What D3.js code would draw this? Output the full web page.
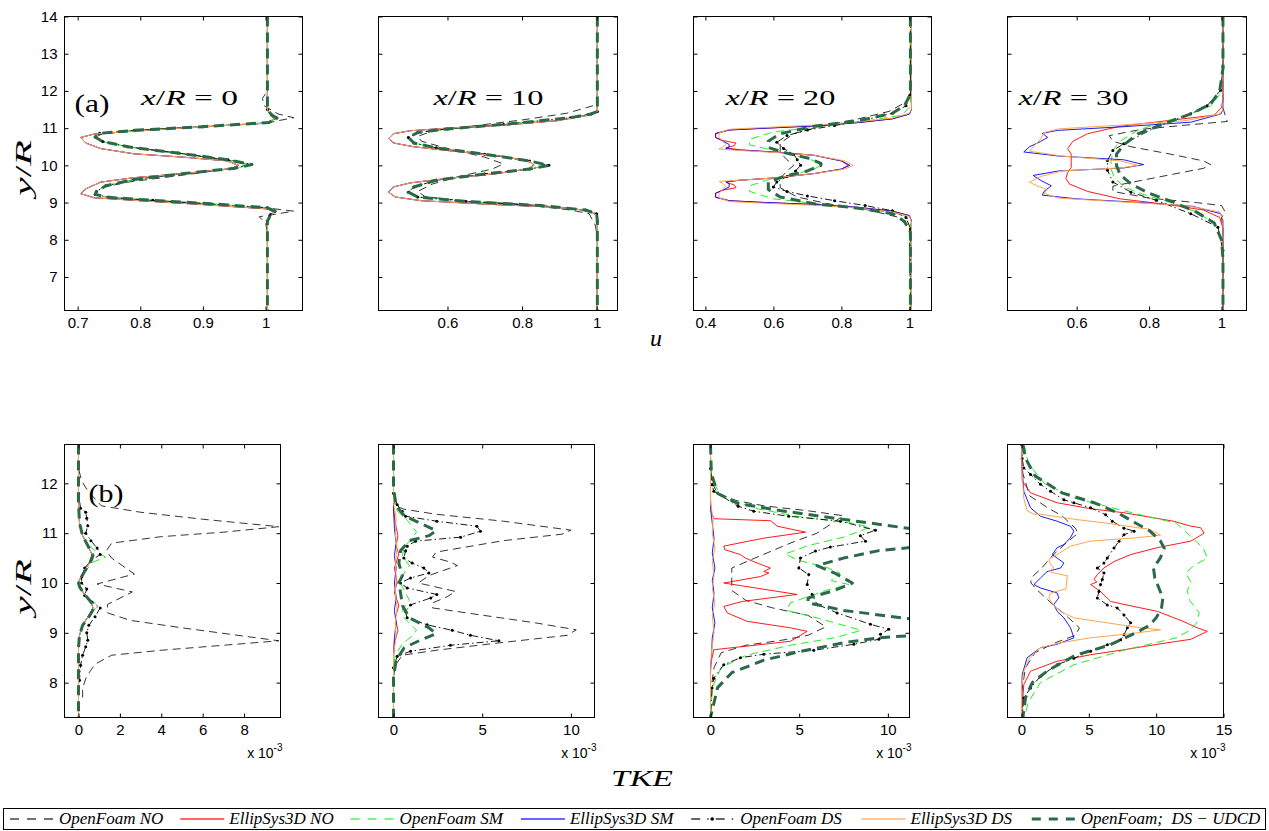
<!DOCTYPE html>
<html>
<head>
<meta charset="utf-8">
<script src="https://cdnjs.cloudflare.com/ajax/libs/d3/7.8.5/d3.min.js"></script>
<style>
body { margin: 0; background: #fff; }
svg { display: block; }
.tick text { font-family: "Liberation Sans", Arial, sans-serif; font-size: 15px; fill: #000; }
.tick line { stroke: #000; }
.math { font-family: "Liberation Serif", "DejaVu Serif", serif; fill: #000; }
</style>
</head>
<body>
<div id="chart-area"></div>
<script>
/*
*    wake profiles: mean velocity (a) and TKE (b) at x/R = 0, 10, 20, 30
*/

// ---- series (legend order = drawing order)
var seriesLabels = ["OpenFoam NO", "EllipSys3D NO", "OpenFoam SM", "EllipSys3D SM",
                    "OpenFoam DS", "EllipSys3D DS", "OpenFoam;  DS \u2212 UDCD"];
var stations = ["0", "10", "20", "30"];

// ---- tick values
var uYTicks = [7, 8, 9, 10, 11, 12, 13, 14];
var kYTicks = [8, 9, 10, 11, 12];
var uXTicks = [[0.7, 0.8, 0.9, 1], [0.6, 0.8, 1], [0.4, 0.6, 0.8, 1], [0.6, 0.8, 1]];
var kXTicks = [[0, 2, 4, 6, 8], [0, 5, 10], [0, 5, 10], [0, 5, 10, 15]];
var uXRange = [[0.679, 1.059], [0.415, 1.056], [0.365, 1.065], [0.409, 1.069]];
var kXRange = [[-0.676, 9.76], [-0.846, 11.33], [-0.958, 11.22], [-1.04, 15.0]];

// ---- u profiles, x/R = 0   ([u, y/R])
var a0_ofNO = [[1.003,14],[1.003,12.0],[0.995,11.8],[0.998,11.6],[1.02,11.38],[1.045,11.28],[1.02,11.2],[1.0,11.13],[0.9,11.03],[0.79,10.93],[0.74,10.85],[0.728,10.76],[0.742,10.62],[0.78,10.5],[0.86,10.32],[0.94,10.14],[0.975,10.02],[0.94,9.9],[0.86,9.72],[0.78,9.55],[0.738,9.4],[0.728,9.24],[0.745,9.15],[0.8,9.07],[0.9,8.97],[1.0,8.86],[1.045,8.77],[1.02,8.7],[0.99,8.62],[1.0,8.45],[1.003,8.2],[1.003,6.1]];
var a0_el = [[1.003,14],[1.003,11.48],[1.009,11.35],[1.013,11.26],[1.005,11.14],[0.896,11.03],[0.79,10.92],[0.726,10.84],[0.705,10.75],[0.713,10.6],[0.737,10.45],[0.79,10.31],[0.869,10.22],[0.939,10.12],[0.957,10.0],[0.944,9.91],[0.869,9.78],[0.79,9.67],[0.737,9.55],[0.713,9.37],[0.705,9.24],[0.726,9.13],[0.79,9.06],[0.896,8.95],[1.003,8.83],[1.013,8.74],[1.008,8.63],[1.003,8.47],[1.003,6.1]];
var a0_of = [[1.003,14],[1.003,11.5],[1.01,11.35],[1.018,11.27],[1.005,11.15],[0.9,11.04],[0.79,10.94],[0.735,10.86],[0.728,10.76],[0.74,10.64],[0.78,10.5],[0.86,10.33],[0.94,10.15],[0.978,10.02],[0.95,9.92],[0.87,9.78],[0.79,9.62],[0.745,9.45],[0.73,9.3],[0.728,9.22],[0.75,9.14],[0.82,9.06],[0.91,8.97],[1.003,8.86],[1.015,8.77],[1.008,8.68],[1.003,8.5],[1.003,6.1]];

// ---- u profiles, x/R = 10
var a10_ofNO = [[1.002,14],[1.002,11.7],[0.99,11.6],[0.92,11.4],[0.8,11.22],[0.66,11.05],[0.56,10.92],[0.52,10.78],[0.53,10.65],[0.6,10.45],[0.7,10.22],[0.75,10.04],[0.72,9.9],[0.63,9.7],[0.56,9.5],[0.52,9.3],[0.54,9.16],[0.63,9.06],[0.8,8.95],[0.93,8.8],[0.98,8.7],[0.996,8.4],[1.002,8.1],[1.002,6.1]];
var a10_el = [[1.002,14],[1.002,11.45],[0.98,11.35],[0.894,11.2],[0.751,11.08],[0.6,11.0],[0.5,10.93],[0.455,10.85],[0.442,10.72],[0.456,10.6],[0.51,10.5],[0.617,10.38],[0.75,10.24],[0.823,10.1],[0.832,10.0],[0.814,9.9],[0.733,9.78],[0.6,9.65],[0.501,9.53],[0.455,9.42],[0.442,9.28],[0.46,9.15],[0.53,9.05],[0.72,8.95],[0.9,8.87],[0.98,8.78],[1.002,8.65],[1.002,6.1]];
var a10_of = [[1.002,14],[1.002,11.45],[0.985,11.38],[0.93,11.28],[0.75,11.1],[0.6,10.98],[0.52,10.88],[0.495,10.75],[0.51,10.6],[0.57,10.47],[0.7,10.3],[0.82,10.12],[0.872,10.0],[0.82,9.9],[0.7,9.77],[0.57,9.6],[0.51,9.42],[0.495,9.28],[0.52,9.15],[0.65,9.03],[0.85,8.92],[0.97,8.8],[1.0,8.7],[1.002,8.5],[1.002,6.1]];

// ---- u profiles, x/R = 20
var a20_ofNO = [[1.003,14],[1.003,12.0],[0.99,11.7],[0.94,11.45],[0.85,11.25],[0.74,11.05],[0.66,10.85],[0.62,10.6],[0.62,10.35],[0.64,10.15],[0.66,10.0],[0.64,9.85],[0.62,9.65],[0.62,9.4],[0.67,9.15],[0.77,8.95],[0.88,8.8],[0.97,8.6],[1.0,8.3],[1.003,6.1]];
var a20_elNO = [[1.006,14],[1.006,11.5],[1.0,11.38],[0.95,11.25],[0.85,11.15],[0.72,11.06],[0.58,11.0],[0.47,10.95],[0.43,10.85],[0.43,10.75],[0.45,10.67],[0.49,10.6],[0.485,10.53],[0.46,10.47],[0.5,10.42],[0.6,10.36],[0.72,10.27],[0.8,10.12],[0.82,10.0],[0.8,9.9],[0.72,9.78],[0.6,9.66],[0.5,9.6],[0.46,9.55],[0.485,9.47],[0.49,9.4],[0.45,9.33],[0.43,9.25],[0.43,9.15],[0.47,9.05],[0.58,9.0],[0.72,8.95],[0.85,8.87],[0.95,8.77],[1.0,8.65],[1.006,8.5],[1.006,6.1]];
var a20_elSM = [[1.006,14],[1.006,11.5],[1.0,11.38],[0.95,11.25],[0.85,11.15],[0.72,11.06],[0.58,11.0],[0.47,10.95],[0.43,10.86],[0.43,10.75],[0.45,10.66],[0.47,10.56],[0.47,10.5],[0.46,10.45],[0.5,10.41],[0.6,10.36],[0.72,10.27],[0.8,10.12],[0.825,10.0],[0.8,9.9],[0.72,9.78],[0.6,9.66],[0.5,9.6],[0.46,9.56],[0.47,9.5],[0.47,9.42],[0.45,9.33],[0.43,9.25],[0.43,9.14],[0.47,9.05],[0.58,9.0],[0.72,8.95],[0.85,8.87],[0.95,8.77],[1.0,8.65],[1.006,8.5],[1.006,6.1]];
var a20_elDS = [[1.006,14],[1.006,11.52],[1.0,11.4],[0.95,11.27],[0.85,11.17],[0.72,11.08],[0.58,11.02],[0.47,10.97],[0.44,10.87],[0.44,10.75],[0.45,10.66],[0.46,10.56],[0.45,10.48],[0.44,10.44],[0.5,10.4],[0.6,10.35],[0.72,10.27],[0.81,10.12],[0.835,10.0],[0.81,9.9],[0.72,9.78],[0.6,9.66],[0.5,9.6],[0.44,9.57],[0.45,9.52],[0.46,9.44],[0.45,9.34],[0.44,9.25],[0.44,9.13],[0.47,9.03],[0.58,8.98],[0.72,8.93],[0.85,8.85],[0.95,8.75],[1.0,8.63],[1.006,8.48],[1.006,6.1]];
var a20_ofSM = [[1.003,14],[1.003,11.6],[0.98,11.35],[0.88,11.2],[0.75,11.05],[0.6,10.9],[0.53,10.7],[0.53,10.55],[0.6,10.4],[0.67,10.25],[0.73,10.1],[0.74,10.0],[0.72,9.9],[0.66,9.75],[0.58,9.6],[0.53,9.45],[0.53,9.3],[0.6,9.1],[0.75,8.95],[0.88,8.82],[0.98,8.68],[1.003,8.5],[1.003,6.1]];
var a20_ofDS = [[1.003,14],[1.003,11.9],[0.99,11.6],[0.95,11.4],[0.86,11.2],[0.78,11.07],[0.7,10.95],[0.64,10.8],[0.61,10.62],[0.63,10.45],[0.66,10.3],[0.67,10.15],[0.68,10.0],[0.665,9.85],[0.64,9.7],[0.61,9.55],[0.6,9.42],[0.64,9.3],[0.7,9.18],[0.78,9.05],[0.87,8.92],[0.95,8.78],[0.99,8.6],[1.003,8.3],[1.003,6.1]];
var a20_udcd = [[1.003,14],[1.003,11.9],[0.985,11.6],[0.95,11.4],[0.85,11.2],[0.72,11.05],[0.62,10.85],[0.585,10.65],[0.585,10.48],[0.63,10.35],[0.7,10.2],[0.74,10.05],[0.74,10.0],[0.7,9.85],[0.63,9.7],[0.585,9.55],[0.585,9.35],[0.62,9.15],[0.72,8.97],[0.85,8.85],[0.95,8.7],[0.985,8.5],[1.003,8.2],[1.003,6.1]];

// ---- u profiles, x/R = 30
var a30_ofNO = [[1.004,14],[1.004,11.55],[1.01,11.35],[1.016,11.18],[0.9,11.08],[0.78,10.97],[0.69,10.8],[0.7,10.65],[0.75,10.5],[0.86,10.3],[0.95,10.12],[0.97,10.02],[0.95,9.92],[0.86,9.75],[0.76,9.56],[0.7,9.44],[0.7,9.3],[0.8,9.12],[0.93,9.0],[1.0,8.92],[1.01,8.75],[1.0,8.6],[1.004,8.3],[1.004,6.1]];
var a30_elNO = [[1.004,14],[1.004,11.8],[1.0,11.55],[0.98,11.35],[0.85,11.2],[0.72,11.05],[0.63,10.85],[0.59,10.65],[0.575,10.45],[0.585,10.3],[0.585,10.1],[0.585,9.95],[0.575,9.8],[0.57,9.65],[0.58,9.5],[0.63,9.3],[0.72,9.1],[0.85,8.95],[0.95,8.8],[0.995,8.6],[1.004,8.3],[1.004,6.1]];
var a30_ofSM = [[1.004,14],[1.004,12.4],[0.995,11.9],[0.97,11.6],[0.92,11.4],[0.85,11.2],[0.77,10.95],[0.72,10.65],[0.7,10.4],[0.695,10.1],[0.695,9.9],[0.705,9.65],[0.735,9.4],[0.79,9.2],[0.86,9.0],[0.93,8.75],[0.98,8.45],[1.0,8.0],[1.004,7.5],[1.004,6.1]];
var a30_elSM = [[1.004,14],[1.004,11.5],[0.998,11.38],[0.915,11.16],[0.731,11.04],[0.547,10.94],[0.505,10.86],[0.52,10.75],[0.5,10.64],[0.47,10.5],[0.454,10.36],[0.55,10.25],[0.73,10.15],[0.785,10.02],[0.73,9.93],[0.55,9.85],[0.48,9.73],[0.5,9.6],[0.53,9.45],[0.51,9.3],[0.505,9.2],[0.6,9.1],[0.78,9.0],[0.92,8.9],[0.998,8.7],[1.004,8.5],[1.004,6.1]];
var a30_ofDS = [[1.004,14],[1.004,12.65],[0.998,12.02],[0.96,11.6],[0.915,11.39],[0.82,11.03],[0.73,10.58],[0.7,10.4],[0.685,10.13],[0.685,9.87],[0.7,9.55],[0.75,9.28],[0.82,9.06],[0.915,8.7],[0.99,8.34],[1.004,7.71],[1.004,6.1]];
var a30_elDS = [[1.004,14],[1.004,11.5],[0.995,11.38],[0.9,11.2],[0.72,11.08],[0.55,10.98],[0.51,10.88],[0.5,10.7],[0.48,10.5],[0.47,10.38],[0.56,10.25],[0.72,10.12],[0.77,10.0],[0.72,9.93],[0.56,9.85],[0.5,9.7],[0.47,9.55],[0.49,9.45],[0.52,9.35],[0.51,9.25],[0.55,9.12],[0.72,9.02],[0.9,8.92],[0.995,8.75],[1.004,8.55],[1.004,6.1]];
var a30_udcd = [[1.004,14],[1.004,12.6],[0.995,12.0],[0.97,11.65],[0.92,11.4],[0.85,11.15],[0.77,10.85],[0.73,10.55],[0.71,10.3],[0.71,10.0],[0.72,9.75],[0.75,9.5],[0.8,9.25],[0.87,9.0],[0.93,8.75],[0.98,8.45],[1.0,8.0],[1.004,7.5],[1.004,6.1]];

// ---- TKE profiles (x 10^-3), x/R = 0   ([k, y/R])
var b0_ofNO = [[0,12.78],[0,12.3],[0.15,12.05],[0.45,11.85],[1.1,11.55],[3,11.42],[6,11.28],[9.68,11.13],[7,11.02],[4,10.93],[1.6,10.8],[1.35,10.65],[1.6,10.5],[2.7,10.18],[0.9,9.98],[2.6,9.82],[1.4,9.57],[1.4,9.4],[2.5,9.25],[5,9.1],[9.68,8.84],[7,8.75],[4,8.65],[1.6,8.55],[0.8,8.37],[0.4,8.13],[0.2,7.9],[0.2,7.7]];
var b0_el = [[0,12.78],[0,11.6],[0.05,11.2],[0.2,10.95],[0.45,10.75],[0.65,10.57],[0.55,10.42],[0.25,10.22],[0.05,10.06],[0,10.0],[0.05,9.92],[0.3,9.77],[0.6,9.62],[0.7,9.5],[0.5,9.35],[0.2,9.15],[0.05,8.95],[0,8.7],[0,7.3]];
var b0_ofSM = [[0,12.78],[0,11.6],[0.05,11.2],[0.2,10.95],[0.5,10.75],[0.9,10.62],[1.3,10.52],[0.7,10.42],[0.3,10.22],[0.05,10.06],[0,10.0],[0.05,9.92],[0.3,9.77],[0.7,9.62],[1.0,9.55],[0.6,9.4],[0.25,9.2],[0.05,8.95],[0,8.7],[0,7.3]];
var b0_ofDS = [[0,12.78],[0,11.8],[0.1,11.5],[0.35,11.42],[0.4,11.3],[0.45,11.15],[0.35,11.0],[0.6,10.85],[0.9,10.7],[1.05,10.57],[0.6,10.45],[0.3,10.3],[0.15,10.12],[0.15,10.0],[0.4,9.88],[0.3,9.75],[0.65,9.62],[1.05,9.5],[0.8,9.32],[0.5,9.15],[0.4,9.0],[0.45,8.85],[0.35,8.72],[0.2,8.55],[0.1,8.35],[0.05,8.05],[0,7.8],[0,7.3]];
var b0_udcd = [[0,12.78],[0,11.6],[0.05,11.2],[0.2,10.95],[0.45,10.75],[0.7,10.55],[0.55,10.4],[0.25,10.2],[0.05,10.05],[0,10.0],[0.05,9.92],[0.3,9.77],[0.6,9.62],[0.75,9.5],[0.55,9.35],[0.2,9.15],[0.05,8.95],[0,8.7],[0,7.3]];

// ---- TKE, x/R = 10
var b10_ofNO = [[0,12.78],[0,11.8],[0.1,11.55],[0.6,11.48],[2.4,11.38],[6.2,11.24],[10.0,11.06],[9.5,10.98],[6.2,10.85],[2.4,10.62],[2.2,10.52],[3.2,10.42],[3.6,10.35],[2.0,10.15],[1.4,10.0],[3.5,9.83],[3.0,9.72],[2.2,9.6],[2.2,9.5],[4.5,9.38],[8.0,9.2],[10.3,9.06],[9.8,8.95],[6.0,8.8],[2.4,8.65],[0.5,8.55],[0.1,8.35],[0,8.1],[0,7.3]];
var b10_elNO = [[0,12.78],[0,11.5],[0.1,11.2],[0.25,10.95],[0.15,10.75],[0.3,10.58],[0.05,10.3],[0.2,10.02],[0.05,9.8],[0.3,9.55],[0.1,9.3],[0.25,9.05],[0.05,8.8],[0,8.5],[0,7.3]];
var b10_ofSM = [[0,12.78],[0,11.7],[0.2,11.45],[0.8,11.25],[1.3,11.02],[1.0,10.88],[0.6,10.72],[0.5,10.55],[0.9,10.35],[0.5,10.15],[0.4,10.0],[0.6,9.85],[0.9,9.65],[0.5,9.48],[0.6,9.3],[1.3,9.05],[1.0,8.92],[0.5,8.78],[0.1,8.55],[0,8.3],[0,7.3]];
var b10_elSM = [[0,12.78],[0,11.5],[0.05,11.1],[0.15,10.8],[0.05,10.55],[0.15,10.3],[0.05,10.0],[0.15,9.7],[0.05,9.45],[0.15,9.2],[0.05,8.9],[0,8.5],[0,7.3]];
var b10_ofDS = [[0,12.78],[0,11.8],[0.21,11.57],[0.49,11.44],[0.68,11.34],[2.44,11.24],[4.7,11.14],[4.9,11.04],[3.78,10.92],[1.24,10.84],[0.77,10.74],[0.68,10.64],[0.58,10.5],[1.05,10.4],[1.71,10.3],[1.99,10.2],[0.96,10.1],[0.39,10.0],[0.77,9.9],[2.44,9.77],[2.1,9.7],[0.96,9.56],[0.68,9.43],[0.77,9.3],[1.9,9.16],[3.31,9.05],[4.34,8.95],[5.94,8.84],[3.21,8.75],[0.96,8.63],[0.21,8.53],[0,8.3],[0,7.3]];
var b10_elDS = [[0,12.78],[0,11.6],[0.15,11.3],[0.1,11.0],[0.2,10.7],[0.1,10.4],[0.15,10.1],[0.1,9.8],[0.2,9.5],[0.1,9.2],[0.15,8.9],[0,8.6],[0,7.3]];
var b10_udcd = [[0,12.78],[0,11.9],[0.15,11.55],[0.6,11.35],[1.5,11.2],[2.4,11.05],[2.0,10.95],[0.9,10.85],[0.4,10.65],[0.3,10.4],[0.5,10.15],[0.3,10.0],[0.4,9.8],[0.5,9.55],[0.9,9.3],[2.0,9.1],[2.4,8.98],[1.5,8.85],[0.6,8.7],[0.15,8.45],[0,8.1],[0,7.3]];

// ---- TKE, x/R = 20
var b20_ofNO = [[0,12.78],[0,12.4],[0.1,12.0],[0.4,11.8],[1.5,11.65],[3.0,11.55],[5.5,11.45],[7.5,11.35],[6.0,11.0],[4.5,10.8],[2.5,10.5],[1.2,10.3],[1.2,9.85],[2.0,9.65],[3.5,9.5],[5.5,9.35],[6.5,9.12],[5.5,8.95],[4.0,8.85],[2.0,8.75],[0.6,8.6],[0.2,8.3],[0,7.8],[0,7.3]];
var b20_elNO = [[0,12.78],[0,11.7],[0.05,11.42],[0.19,11.29],[3.4,11.25],[3.76,11.14],[5.36,11.02],[3.0,10.9],[0.75,10.74],[0.8,10.67],[1.69,10.57],[1.97,10.5],[2.63,10.4],[3.38,10.3],[3.0,10.23],[3.29,10.2],[2.82,10.13],[0.75,10.0],[4.88,9.77],[1.8,9.63],[0.75,9.53],[0.94,9.4],[2.07,9.23],[4.51,9.1],[5.45,9.03],[4.51,8.83],[0.19,8.66],[0,8.36],[0,7.3]];
var b20_ofSM = [[0,12.78],[0.05,12.1],[0.6,11.75],[2.5,11.5],[5,11.33],[8,11.2],[9.0,11.12],[7.5,10.92],[5.5,10.75],[4.2,10.58],[5.0,10.45],[6.5,10.32],[7.3,10.2],[6.8,10.05],[7.8,9.97],[6.5,9.85],[4.5,9.6],[4.3,9.45],[6.0,9.3],[8.5,9.05],[7.0,8.9],[4.5,8.75],[2.0,8.55],[0.6,8.3],[0.1,7.9],[0,7.3]];
var b20_elSM = [[0,12.78],[0,11.5],[0.1,11.2],[0.2,10.9],[0.1,10.6],[0.25,10.3],[0.1,10.05],[0.2,9.8],[0.1,9.5],[0.25,9.2],[0.1,8.9],[0.05,8.5],[0,8.2],[0,7.3]];
var b20_ofDS = [[0,12.78],[0,12.3],[0.09,11.97],[0.19,11.84],[1.56,11.54],[2.44,11.44],[4.41,11.34],[7.33,11.24],[9.3,11.06],[8.45,10.95],[8.74,10.84],[6.76,10.72],[5.92,10.64],[5.07,10.5],[4.98,10.3],[5.54,10.17],[5.45,9.97],[5.73,9.77],[6.01,9.57],[7.14,9.4],[9.02,9.17],[10.05,9.07],[9.58,8.97],[9.49,8.87],[8.08,8.77],[5.82,8.65],[3.0,8.57],[1.69,8.5],[0.75,8.36],[0.19,8.09],[0.09,7.89],[0,7.3]];
var b20_elDS = [[0,12.78],[0,11.6],[0.15,11.3],[0.1,11.0],[0.25,10.7],[0.1,10.45],[0.2,10.15],[0.1,9.9],[0.25,9.6],[0.1,9.35],[0.2,9.0],[0.05,8.6],[0,8.2],[0,7.3]];
var b20_udcd = [[0,12.78],[0.05,12.2],[0.4,11.8],[1.5,11.6],[4,11.45],[7,11.3],[11.5,11.08],[11.5,10.72],[9.5,10.65],[7.5,10.5],[6.0,10.35],[7.0,10.2],[8.0,10.0],[7.0,9.85],[5.5,9.7],[5.5,9.6],[7.5,9.45],[11.5,9.27],[11.5,8.95],[9.5,8.9],[7.5,8.8],[5.0,8.62],[3.0,8.45],[1.2,8.2],[0.4,7.9],[0,7.3]];

// ---- TKE, x/R = 30
var b30_ofNO = [[0,12.78],[0.1,12.2],[0.6,11.75],[2.0,11.5],[3.0,11.35],[4.0,11.1],[4.2,11.0],[3.3,10.8],[2.3,10.55],[1.5,10.3],[0.7,10.1],[0.7,10.0],[1.2,9.85],[2.2,9.6],[3.5,9.3],[4.3,9.1],[4.0,8.95],[2.5,8.8],[1.0,8.6],[0.3,8.3],[0,7.8],[0,7.3]];
var b30_elNO = [[0,12.78],[0.05,12.05],[0.67,11.81],[2.65,11.61],[5.13,11.49],[7.61,11.41],[11.3,11.24],[12.57,11.14],[13.3,11.11],[13.56,11.0],[12.57,10.84],[10.1,10.71],[8.1,10.57],[6.87,10.43],[6.12,10.3],[5.63,10.17],[5.38,10.07],[5.6,10.02],[5.13,9.97],[5.87,9.83],[6.62,9.63],[7.61,9.57],[10.1,9.43],[12.0,9.23],[13.05,9.1],[13.8,9.03],[12.57,8.87],[10.1,8.77],[7.61,8.66],[5.13,8.56],[2.65,8.43],[0.67,8.23],[0.17,7.96],[0,7.3]];
var b30_ofSM = [[0.2,12.78],[0.5,12.4],[1.7,12.0],[4,11.7],[7.6,11.45],[11.5,11.2],[12.5,10.95],[13.5,10.7],[13.8,10.5],[12.8,10.35],[12.2,10.2],[12.6,10.0],[12.3,9.85],[12.5,9.65],[13.2,9.4],[13.0,9.2],[12.5,9.05],[11.5,8.9],[7.6,8.65],[3.9,8.36],[1.4,8.0],[0.5,7.6],[0.2,7.3]];
var b30_elSM = [[0,12.78],[0.05,12.3],[0.17,11.84],[0.67,11.51],[1.41,11.34],[2.65,11.24],[3.64,11.14],[3.89,11.04],[3.64,10.91],[3.15,10.77],[2.65,10.71],[2.28,10.57],[2.65,10.5],[3.15,10.4],[2.9,10.3],[1.9,10.23],[1.41,10.1],[0.92,9.97],[1.41,9.9],[2.65,9.8],[2.77,9.7],[2.4,9.57],[2.65,9.43],[3.15,9.3],[3.64,9.1],[3.89,8.9],[2.65,8.77],[1.41,8.7],[0.42,8.5],[0.05,8.16],[0,7.3]];
var b30_ofDS = [[0,12.78],[0.05,12.5],[0.17,12.31],[0.67,12.18],[1.41,11.98],[2.16,11.84],[3.15,11.67],[3.89,11.61],[5.13,11.51],[6.25,11.37],[6.74,11.24],[7.61,11.1],[8.36,11.04],[7.61,10.97],[7.24,10.84],[6.87,10.7],[6.37,10.5],[6.12,10.4],[5.63,10.3],[6.12,10.2],[6.0,10.07],[5.87,9.97],[5.75,9.83],[5.63,9.7],[6.37,9.56],[7.11,9.5],[7.61,9.36],[8.1,9.2],[7.86,9.1],[7.61,8.96],[7.36,8.86],[6.37,8.76],[5.13,8.63],[3.89,8.49],[2.65,8.36],[1.41,8.13],[0.67,7.89],[0.17,7.69],[0.05,7.3]];
var b30_elDS = [[0,12.78],[0.05,12.2],[0.17,11.7],[0.42,11.45],[0.92,11.38],[1.41,11.38],[3.89,11.28],[6.37,11.2],[8.85,11.1],[9.34,11.09],[10.33,10.96],[8.6,10.91],[5.13,10.84],[3.64,10.74],[2.65,10.57],[2.03,10.47],[2.16,10.37],[2.4,10.3],[2.03,10.23],[3.27,10.15],[3.4,10.15],[3.3,9.88],[2.16,9.8],[2.03,9.7],[2.4,9.55],[2.9,9.43],[3.89,9.3],[6.37,9.2],[8.85,9.1],[10.33,9.06],[8.0,8.98],[5.13,8.9],[2.9,8.8],[1.4,8.7],[0.6,8.5],[0.17,8.23],[0,7.9],[0,7.3]];
var b30_udcd = [[0.1,12.78],[0.3,12.5],[1.0,12.15],[3.0,11.81],[5.5,11.6],[7.2,11.4],[8.5,11.2],[9.5,11.05],[10.3,10.85],[10.6,10.7],[10.3,10.5],[9.8,10.3],[9.9,10.1],[10.2,9.9],[10.5,9.7],[10.4,9.5],[10.0,9.3],[9.5,9.15],[8.5,9.0],[6.5,8.75],[4.0,8.55],[2.0,8.25],[0.8,8.0],[0.3,7.7],[0.1,7.3]];

// curves per panel, in legend order
var uCurves = [
    [a0_ofNO, a0_el, a0_of, a0_el, a0_of, a0_el, a0_of],
    [a10_ofNO, a10_el, a10_of, a10_el, a10_of, a10_el, a10_of],
    [a20_ofNO, a20_elNO, a20_ofSM, a20_elSM, a20_ofDS, a20_elDS, a20_udcd],
    [a30_ofNO, a30_elNO, a30_ofSM, a30_elSM, a30_ofDS, a30_elDS, a30_udcd]
];
var kCurves = [
    [b0_ofNO, b0_el, b0_ofSM, b0_el, b0_ofDS, b0_el, b0_udcd],
    [b10_ofNO, b10_elNO, b10_ofSM, b10_elSM, b10_ofDS, b10_elDS, b10_udcd],
    [b20_ofNO, b20_elNO, b20_ofSM, b20_elSM, b20_ofDS, b20_elDS, b20_udcd],
    [b30_ofNO, b30_elNO, b30_ofSM, b30_elSM, b30_ofDS, b30_elDS, b30_udcd]
];

// ---- styles
var styles = [
    {color: "#000", width: 0.8, dash: "8,5"},
    {color: "#ff0000", width: 0.9, dash: null},
    {color: "#22ee22", width: 1, dash: "8,5"},
    {color: "#0000ff", width: 0.9, dash: null},
    {color: "#000", width: 0.9, dash: "7,3,1.5,3", dots: true},
    {color: "#ffa54f", width: 1, dash: null},
    {color: "#2b6a48", width: 3, dash: "10,6"}
];
var legendDash = ["9,8", null, "9,8", null, "9,7,1.5,7", null, "9,8"];

var width = 1269, height = 831;
var colLeft = [64, 378, 693, 1007];
var topW = [238, 239, 238, 239];
var botW = 216;

var svg = d3.select("#chart-area").append("svg")
    .attr("width", width)
    .attr("height", height);

var line = d3.line();

function mathText(sel, parts) {
    parts.forEach(function(p) {
        sel.append("tspan")
            .attr("font-style", p[1] ? "italic" : "normal")
            .text(p[0]);
    });
    return sel;
}

function drawPanel(id, left, top, w, h, xDom, xTicks, yDom, yTicks, curves, showY) {
    var g = svg.append("g")
        .attr("transform", "translate(" + (left + 0.5) + "," + (top + 0.5) + ")");

    var x = d3.scaleLinear().domain(xDom).range([0, w]);
    var y = d3.scaleLinear().domain(yDom).range([h, 0]);

    g.append("clipPath").attr("id", id)
        .append("rect").attr("width", w).attr("height", h);

    var plot = g.append("g").attr("clip-path", "url(#" + id + ")");
    line.x(function(d){ return x(d[0]); }).y(function(d){ return y(d[1]); });

    curves.forEach(function(data, i) {
        var s = styles[i];
        plot.append("path")
            .attr("d", line(data))
            .attr("fill", "none")
            .attr("stroke", s.color)
            .attr("stroke-width", s.width)
            .attr("stroke-dasharray", s.dash)
            .attr("stroke-linejoin", "round");
        if (s.dots) {
            plot.selectAll(null)
                .data(data)
                .enter().append("circle")
                .attr("cx", function(d){ return x(d[0]); })
                .attr("cy", function(d){ return y(d[1]); })
                .attr("r", 1.5)
                .attr("fill", "#000");
        }
    });

    var fmt = d3.format("~g");
    var strip = function(a){ a.select(".domain").remove(); };

    g.append("g").attr("transform", "translate(0," + h + ")")
        .call(d3.axisBottom(x).tickValues(xTicks).tickSize(-4).tickPadding(7).tickFormat(fmt))
        .call(strip);
    g.append("g")
        .call(d3.axisTop(x).tickValues(xTicks).tickSize(-4).tickFormat(""))
        .call(strip);
    g.append("g")
        .call(d3.axisLeft(y).tickValues(yTicks).tickSize(-4).tickPadding(7).tickFormat(showY ? fmt : ""))
        .call(strip);
    g.append("g").attr("transform", "translate(" + w + ",0)")
        .call(d3.axisRight(y).tickValues(yTicks).tickSize(-4).tickFormat(""))
        .call(strip);

    g.append("rect")
        .attr("width", w).attr("height", h)
        .attr("fill", "none").attr("stroke", "#000").attr("stroke-width", 1);

    return g;
}

// ---- top row: u
var titleDx = [125, 110, 87, 66];
stations.forEach(function(st, i) {
    var g = drawPanel("clipU" + i, colLeft[i], 16, topW[i], 294,
        uXRange[i], uXTicks[i], [6.1, 14], uYTicks, uCurves[i], i === 0);
    var t = g.append("text").attr("class", "math")
        .attr("x", titleDx[i]).attr("y", 88)
        .attr("text-anchor", "middle")
        .attr("font-size", 22)
        .attr("textLength", st.length > 1 ? 110 : 97)
        .attr("lengthAdjust", "spacingAndGlyphs");
    mathText(t, [["x", 1], ["/", 0], ["R", 1], [" = ", 0], [st, 0]]);
});

// ---- bottom row: TKE
stations.forEach(function(st, i) {
    var g = drawPanel("clipK" + i, colLeft[i], 444, botW, 273,
        kXRange[i], kXTicks[i], [7.3, 12.78], kYTicks, kCurves[i], i === 0);
    var s = g.append("text")
        .attr("x", botW + 2).attr("y", 313)
        .attr("text-anchor", "end")
        .attr("font-family", "Liberation Sans, Arial, sans-serif")
        .attr("font-size", 14)
        .text("x 10");
    s.append("tspan").attr("dy", -7).attr("font-size", 10).text("-3");
});

// panel tags
svg.append("text").attr("class", "math").attr("x", 92).attr("y", 112)
    .attr("text-anchor", "middle").attr("font-size", 26)
    .attr("textLength", 35).attr("lengthAdjust", "spacingAndGlyphs").text("(a)");
svg.append("text").attr("class", "math").attr("x", 106).attr("y", 502)
    .attr("text-anchor", "middle").attr("font-size", 26)
    .attr("textLength", 35).attr("lengthAdjust", "spacingAndGlyphs").text("(b)");

// axis titles
[168, 587].forEach(function(cy) {
    var t = svg.append("text").attr("class", "math")
        .attr("transform", "translate(31," + cy + ") rotate(-90)")
        .attr("text-anchor", "middle").attr("font-size", 24)
        .attr("textLength", 56).attr("lengthAdjust", "spacingAndGlyphs");
    mathText(t, [["y", 1], ["/", 0], ["R", 1]]);
});
svg.append("text").attr("class", "math").attr("x", 656).attr("y", 346)
    .attr("text-anchor", "middle").attr("font-size", 24).attr("font-style", "italic").text("u");
svg.append("text").attr("class", "math").attr("x", 642).attr("y", 786)
    .attr("text-anchor", "middle").attr("font-size", 23).attr("font-style", "italic")
    .attr("textLength", 62).attr("lengthAdjust", "spacingAndGlyphs").text("TKE");

// ---- legend
var legend = svg.append("g");
legend.append("rect")
    .attr("x", 3.5).attr("y", 808.5).attr("width", 1262).attr("height", 21)
    .attr("fill", "#fff").attr("stroke", "#000").attr("stroke-width", 1);

var legendRow = legend.selectAll(".legend-row")
    .data(seriesLabels)
    .enter().append("g")
    .attr("class", "legend-row")
    .attr("transform", function(d, i){ return "translate(" + (10 + i * 170.3) + ",819)"; });

legendRow.append("line")
    .attr("x1", 0).attr("x2", 44)
    .attr("stroke", function(d, i){ return styles[i].color; })
    .attr("stroke-opacity", function(d, i){ return i === 0 ? 0.55 : (i === 6 ? 1 : 0.6); })
    .attr("stroke-width", function(d, i){ return i === 6 ? 3 : 2; })
    .attr("stroke-dasharray", function(d, i){ return legendDash[i]; });

legendRow.filter(function(d, i){ return i === 4; })
    .append("circle").attr("cx", 21).attr("cy", 0).attr("r", 1.8).attr("fill", "#000");

legendRow.append("text")
    .attr("class", "math")
    .attr("x", 49).attr("y", 5)
    .attr("font-size", 17)
    .attr("font-style", "italic")
    .attr("xml:space", "preserve")
    .text(function(d){ return d; });

</script>
</body>
</html>
